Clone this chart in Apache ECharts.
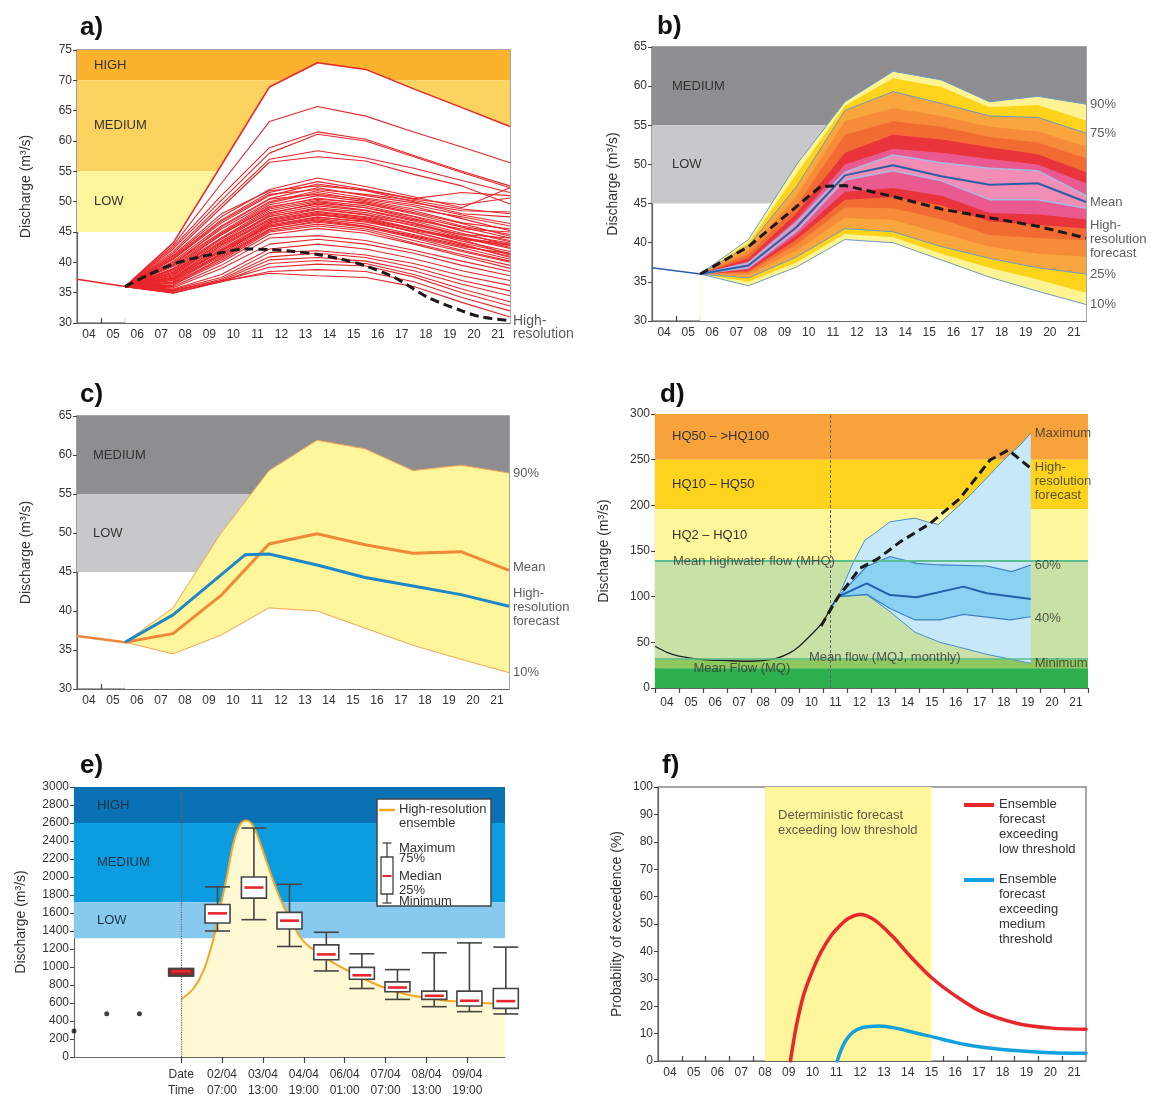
<!DOCTYPE html>
<html><head><meta charset="utf-8">
<script src="https://cdn.jsdelivr.net/npm/echarts@6/dist/echarts.min.js"></script>
<style>html,body{margin:0;padding:0;background:#fff}#c{width:1151px;height:1099px}</style>
</head><body><div id="c"></div>
<script>
// ---------------- DATA ----------------
const dayLabels = ['04','05','06','07','08','09','10','11','12','13','14','15','16','17','18','19','20','21'];

// Panel a
const aHistX = [0, 2];
const aHist = [37.2, 36.0];
const aMemberX = [2, 4, 6, 8, 10, 12, 14, 16, 18];
const aMembers = [
  [36, 43.2, 56.0, 68.9, 72.9, 71.8, 68.6, 65.5, 62.4],
  [36, 42.8, 53.0, 63.2, 65.7, 64.1, 61.5, 59.0, 56.4],
  [36, 42.5, 51.0, 58.9, 61.5, 60.3, 57.6, 55.0, 52.6],
  [36, 42.2, 50.2, 58.0, 61.1, 60.0, 57.4, 54.8, 52.3],
  [36, 41.8, 49.5, 57.0, 58.4, 57.2, 55.5, 53.5, 51.5],
  [36, 41.5, 49.0, 56.5, 57.4, 56.7, 54.5, 52.6, 49.6],
  [36, 41.0, 47.5, 52.0, 53.9, 52.5, 50.8, 49.0, 52.3],
  [36, 40.8, 47.0, 51.5, 53.3, 52.0, 50.5, 51.5, 51.0],
  [36, 40.5, 46.5, 51.0, 52.9, 51.8, 50.0, 48.0, 47.5],
  [36, 40.2, 46.0, 50.5, 52.3, 51.0, 49.8, 48.5, 48.3],
  [36, 40.0, 45.5, 50.0, 51.8, 50.6, 49.5, 47.8, 46.4],
  [36, 39.8, 45.0, 49.8, 51.5, 50.2, 48.8, 47.5, 46.0],
  [36, 39.5, 44.8, 49.5, 51.0, 50.0, 48.5, 46.5, 45.5],
  [36, 39.3, 44.5, 49.0, 50.6, 49.6, 48.0, 46.0, 44.6],
  [36, 39.0, 44.0, 48.8, 50.2, 49.3, 47.6, 45.8, 44.0],
  [36, 38.8, 43.8, 48.5, 50.0, 49.0, 47.5, 45.2, 43.6],
  [36, 38.6, 43.5, 48.2, 49.6, 48.6, 47.0, 45.5, 45.0],
  [36, 38.4, 43.2, 47.8, 49.3, 48.5, 46.8, 44.8, 42.8],
  [36, 38.2, 43.0, 47.5, 49.0, 48.2, 46.5, 44.5, 43.2],
  [36, 38.0, 42.8, 47.2, 48.7, 47.8, 46.0, 44.0, 42.3],
  [36, 37.8, 42.5, 47.0, 48.4, 47.5, 46.2, 44.6, 44.0],
  [36, 37.6, 42.2, 46.7, 48.0, 47.2, 45.5, 43.5, 41.8],
  [36, 37.5, 42.0, 46.5, 47.8, 47.0, 45.0, 43.2, 41.5],
  [36, 37.3, 41.8, 46.2, 47.5, 46.6, 45.2, 43.8, 42.8],
  [36, 37.1, 41.5, 46.0, 47.2, 46.3, 44.6, 42.8, 41.0],
  [36, 37.0, 41.2, 45.8, 47.0, 46.0, 44.2, 42.4, 40.5],
  [36, 36.8, 41.0, 45.5, 46.6, 45.8, 44.0, 42.0, 40.2],
  [36, 36.6, 40.6, 45.2, 46.3, 45.5, 43.6, 41.8, 40.0],
  [36, 36.5, 40.3, 45.0, 46.0, 45.2, 43.2, 41.3, 39.5],
  [36, 36.3, 40.0, 44.6, 45.6, 44.8, 43.0, 41.0, 39.0],
  [36, 41.2, 48.0, 51.8, 52.6, 51.9, 50.4, 49.5, 50.6],
  [36, 40.6, 46.8, 51.2, 52.0, 51.2, 50.2, 48.8, 48.0],
  [36, 39.6, 45.8, 50.4, 51.2, 50.4, 49.2, 47.2, 45.2],
  [36, 38.9, 44.6, 49.2, 50.4, 49.8, 48.2, 46.4, 44.3],
  [36, 38.3, 44.0, 48.0, 49.8, 49.0, 47.2, 45.2, 43.4],
  [36, 37.9, 43.4, 47.6, 48.8, 47.9, 46.4, 44.2, 42.5],
  [36, 37.4, 42.8, 46.9, 48.2, 47.4, 45.6, 43.8, 41.2],
  [36, 37.2, 42.0, 46.0, 47.4, 46.8, 45.0, 43.0, 40.8],
  [36, 36.0, 39.5, 44.0, 44.4, 43.6, 42.0, 40.2, 38.5],
  [36, 35.8, 39.0, 43.0, 43.8, 43.0, 41.5, 39.5, 37.8],
  [36, 35.6, 38.0, 42.2, 43.0, 42.2, 40.6, 38.6, 37.0],
  [36, 35.5, 37.5, 41.6, 41.9, 41.2, 39.8, 37.8, 36.2],
  [36, 35.3, 37.2, 40.9, 41.5, 40.8, 39.2, 37.0, 35.3],
  [36, 35.2, 37.0, 40.4, 40.8, 40.2, 38.6, 36.4, 34.5],
  [36, 35.0, 36.8, 39.8, 40.3, 39.8, 38.0, 35.6, 33.5],
  [36, 35.0, 36.9, 39.2, 39.7, 39.4, 37.6, 35.0, 32.8],
  [36, 34.9, 36.8, 38.5, 38.8, 38.5, 36.8, 34.2, 32.0],
  [36, 35.4, 36.9, 38.2, 37.8, 37.5, 36.0, 33.4, 31.0],
  [36, 36.2, 40.8, 45.4, 46.8, 45.9, 44.4, 42.6, 41.4],
  [36, 36.7, 41.4, 46.4, 47.9, 47.0, 45.4, 44.0, 43.0]
];
const aHighResX = [2, 3, 4, 5, 6, 7, 8, 9, 10, 11, 12, 13.2, 14.6, 16, 16.8, 18];
const aHighRes = [36, 38, 39.7, 40.8, 41.6, 42.2, 42.1, 41.8, 41.3, 40.5, 39.4, 37.5, 34.2, 32, 31, 30.4];

// Panels b / c (quantile fan)
const histX = [0, 2];
const hist = [36.8, 36.0];
const pctX = [2, 4, 6, 8, 10, 12, 14, 16, 18];
const p90 = [36, 40.4, 50.0, 58.0, 61.9, 60.8, 58.0, 58.7, 57.7];
const p85 = [36, 40.0, 48.8, 57.5, 61.0, 59.9, 57.3, 57.6, 55.6];
const p75 = [36, 39.6, 47.2, 56.9, 59.3, 57.8, 56.2, 56.0, 54.0];
const p70 = [36, 39.0, 46.0, 55.5, 57.2, 56.2, 54.8, 54.2, 52.3];
const p65 = [36, 38.5, 44.8, 53.8, 55.5, 54.8, 53.5, 52.8, 50.8];
const p60 = [36, 38.0, 43.8, 51.5, 53.8, 53.2, 52.2, 51.3, 49.0];
const p57 = [36, 37.6, 43.0, 50.0, 52.0, 51.5, 50.7, 50.0, 47.6];
const p55 = [36, 37.4, 42.6, 49.0, 51.2, 50.2, 49.5, 49.2, 46.0];
const pMean = [36, 37.1, 42.0, 48.6, 49.9, 48.5, 47.4, 47.6, 45.2];
const p45 = [36, 36.8, 41.5, 48.0, 49.2, 47.9, 45.5, 45.5, 44.4];
const p40 = [36, 36.6, 41.0, 46.5, 47.0, 46.0, 43.8, 43.6, 43.0];
const p35 = [36, 36.4, 40.4, 45.5, 45.8, 44.8, 42.7, 42.3, 41.8];
const p30 = [36, 36.2, 39.8, 44.5, 44.4, 43.0, 41.0, 40.6, 40.3];
const p27 = [36, 35.9, 39.0, 43.2, 42.9, 41.2, 39.5, 38.6, 38.2];
const p25 = [36, 35.5, 38.2, 41.8, 41.4, 39.5, 38.0, 36.8, 36.0];
const p15 = [36, 35.0, 37.5, 41.1, 40.7, 38.6, 36.8, 35.3, 33.6];
const p10 = [36, 34.5, 36.9, 40.4, 40.0, 37.8, 35.6, 33.8, 32.1];
const hiResX = [2, 4, 7, 8, 10, 12, 14, 16, 18];
const hiRes = [36, 39.5, 47.2, 47.3, 45.9, 44.3, 43.2, 42.1, 40.6];

// Panel d
const dObsX = [0, 0.5, 1, 2, 3, 4, 5, 5.6, 6, 6.5, 7, 7.28];
const dObs = [45.7, 39, 34.8, 31.1, 30, 29.3, 32.2, 38.4, 45.7, 58.5, 73, 87];
const dMaxX = [7.62, 8.25, 8.73, 9.22, 9.77, 10.81, 11.30, 11.78, 13.10, 14.62, 15.18, 15.62];
const dMax = [100, 138, 162, 171, 182, 186, 182, 179, 211, 253, 266, 279];
const dP60X = [7.62, 8.80, 9.77, 10.88, 11.85, 13.79, 14.83, 15.62];
const dP60 = [100, 133, 144, 136.5, 134.7, 133.6, 127.4, 134.7];
const dMeanX = [7.28, 7.62, 8.80, 9.77, 10.88, 12.82, 13.79, 15.62];
const dMean = [87, 100, 114.6, 101.8, 99.3, 111, 103.7, 97.4];
const dP40X = [7.62, 8.80, 9.77, 10.81, 11.85, 12.82, 14.76, 15.62];
const dP40 = [100, 102.5, 87, 74.5, 74.5, 80.7, 74.5, 78];
const dMinX = [7.62, 8.80, 9.77, 10.81, 11.85, 12.82, 13.79, 15.62];
const dMin = [100, 102, 83.6, 61, 50, 43.5, 36.9, 27];
const dHiResX = [6.9, 7.62, 8.52, 9.29, 10.19, 11.43, 12.68, 13.93, 14.69, 15.62];
const dHiRes = [68, 100, 131, 142, 160, 180, 207.7, 249.6, 260.6, 240.6];
const dForecastStart = 7.28;

// Panel e
const eDates = ['Date', '02/04', '03/04', '04/04', '06/04', '07/04', '08/04', '09/04'];
const eTimes = ['Time', '07:00', '13:00', '19:00', '01:00', '07:00', '13:00', '19:00'];
const eDateBox = [[0, 901, 901, 952, 982, 982]];
const eBoxes = [
  [0.89, 1400, 1489, 1596, 1695, 1890],
  [1.78, 1526, 1765, 1883, 2000, 2544],
  [2.65, 1228, 1423, 1515, 1607, 1919],
  [3.55, 956, 1081, 1140, 1246, 1386],
  [4.42, 761, 864, 908, 996, 1147],
  [5.29, 640, 725, 772, 835, 971],
  [6.19, 559, 640, 680, 732, 1158],
  [7.05, 504, 566, 625, 732, 1268],
  [7.94, 478, 540, 621, 761, 1221]
];
const eHiResX = [0, 0.30, 0.55, 0.79, 0.95, 1.12, 1.28, 1.44, 1.59, 1.77, 1.93, 2.10, 2.30, 2.50, 2.75, 2.99, 3.32, 3.72, 4.13, 4.54, 5.03, 5.52, 6.01, 6.58, 7.23, 7.92];
const eHiRes = [640, 761, 963, 1312, 1643, 2011, 2379, 2581, 2628, 2562, 2379, 2158, 1900, 1680, 1459, 1287, 1166, 1048, 945, 853, 761, 695, 658, 621, 603, 585];
const eDots = [[-2.62, 290], [-1.82, 480], [-1.02, 480]];

// Panel f
const fRedX = [5.57, 5.8, 6.12, 6.5, 6.87, 7.3, 7.61, 8.0, 8.51, 9.1, 9.85, 10.6, 11.52, 12.54, 13.58, 15.07, 16.57, 18];
const fRed = [0, 12, 24, 33, 40, 46, 49, 52, 53.5, 51.5, 45.6, 38.3, 30.3, 23.6, 18.1, 13.8, 12, 11.6];
const fBlueX = [7.54, 7.7, 7.9, 8.2, 8.6, 9.3, 10, 10.8, 11.52, 12.5, 13.5, 15, 16.5, 18];
const fBlue = [0, 4, 7.5, 10.5, 12.2, 12.8, 12, 10.3, 8.9, 6.8, 5.2, 3.8, 3, 2.8];
const fDetStart = 4.5, fDetEnd = 11.5;

// ---------------- HELPERS ----------------
const FONT = '"Liberation Sans", Arial, sans-serif';
const TXT = '#333';
const pts = (xs, ys) => xs.map((x, i) => [x, ys[i]]);
const dayTickVals = dayLabels.slice(1).map((_, i) => i + 1);
const dayLabelVals = dayLabels.map((_, i) => i + 0.5);

function xDay(gi, inside, ticks) {
  return {
    type: 'value', gridIndex: gi, min: 0, max: 18,
    axisLine: {show: true, onZero: false, lineStyle: {color: '#666', width: 1.2}},
    axisTick: {show: true, inside: inside, length: 5, customValues: ticks || dayTickVals, lineStyle: {color: '#444', width: 1.2}},
    axisLabel: {show: true, customValues: dayLabelVals, formatter: v => dayLabels[Math.floor(v)], color: TXT, fontSize: 12, fontFamily: FONT, margin: inside ? 6 : 9},
    splitLine: {show: false}
  };
}
function yAx(gi, min, max, interval, name, gap) {
  return {
    type: 'value', gridIndex: gi, min, max, interval, name, nameLocation: 'middle', nameGap: gap,
    nameTextStyle: {color: TXT, fontSize: 14, fontFamily: FONT},
    axisLine: {show: true, onZero: false, lineStyle: {color: '#666', width: 1.2}},
    axisTick: {show: true, length: 4, lineStyle: {color: '#444'}},
    axisLabel: {color: TXT, fontSize: 12, fontFamily: FONT, margin: 5, formatter: v => String(v)},
    splitLine: {show: false}
  };
}
function ln(gi, xs, ys, style, extra) {
  return Object.assign({
    type: 'line', xAxisIndex: gi, yAxisIndex: gi, data: pts(xs, ys), symbol: 'none', showSymbol: false,
    silent: true, lineStyle: style, z: 3
  }, extra || {});
}
function fill(gi, xs, ys, color, z) {
  return ln(gi, xs, ys, {width: 0, opacity: 0}, {areaStyle: {color, opacity: 1, origin: 'start'}, z: z || 2});
}
function bands(gi, list, labelOpts, extra) {
  return Object.assign({
    type: 'line', xAxisIndex: gi, yAxisIndex: gi, data: [], z: 1, silent: true,
    markArea: {
      silent: true,
      label: Object.assign({show: true, position: 'insideLeft', color: TXT, fontSize: 13, fontFamily: FONT}, labelOpts || {}),
      data: list.map(b => [{yAxis: b[0], name: b[2] || '', itemStyle: {color: b[3], opacity: 1}}, {yAxis: b[1]}])
    }
  }, extra || {});
}
function texts(gi, items, extra) {
  return Object.assign({
    type: 'scatter', xAxisIndex: gi, yAxisIndex: gi, symbolSize: 0, silent: true, z: 20, clip: false,
    data: items.map(t => ({value: [t[0], t[1]], label: {formatter: t[2], offset: t[3] || [0, 0]}})),
    label: {show: true, position: 'right', distance: 4, color: TXT, fontSize: 13, fontFamily: FONT, lineHeight: 14, align: 'left', verticalAlign: 'middle'}
  }, extra || {});
}
function polygon(gi, ux, uy, lx, ly, color, z) {
  return {
    type: 'custom', xAxisIndex: gi, yAxisIndex: gi, z: z, silent: true, data: [[ux[0], uy[0]]],
    renderItem: (params, api) => {
      const p = ux.map((x, i) => api.coord([x, uy[i]]));
      for (let i = lx.length - 1; i >= 0; i--) p.push(api.coord([lx[i], ly[i]]));
      return {type: 'polygon', shape: {points: p}, style: {fill: color}};
    }
  };
}
function boxSeries(gi, data, boxFill, z) {
  return {
    type: 'custom', xAxisIndex: gi, yAxisIndex: gi, z: z, silent: true, clip: false, data: data,
    encode: {x: 0, y: [1, 2, 3, 4, 5]},
    renderItem: (params, api) => {
      const x = api.value(0);
      const c = k => api.coord([x, api.value(k)]);
      const mn = c(1), q1 = c(2), md = c(3), q3 = c(4), mx = c(5);
      const cx = md[0], hw = 12.5;
      const st = {stroke: '#444', lineWidth: 1.6};
      return {type: 'group', children: [
        {type: 'line', shape: {x1: cx, y1: mx[1], x2: cx, y2: q3[1]}, style: st},
        {type: 'line', shape: {x1: cx, y1: q1[1], x2: cx, y2: mn[1]}, style: st},
        {type: 'line', shape: {x1: cx - hw, y1: mx[1], x2: cx + hw, y2: mx[1]}, style: st},
        {type: 'line', shape: {x1: cx - hw, y1: mn[1], x2: cx + hw, y2: mn[1]}, style: st},
        {type: 'rect', shape: {x: cx - hw, y: q3[1], width: 2 * hw, height: q1[1] - q3[1]}, style: {fill: boxFill, stroke: '#444', lineWidth: 1.6}},
        {type: 'line', shape: {x1: cx - hw + 3, y1: md[1], x2: cx + hw - 3, y2: md[1]}, style: {stroke: '#e8262b', lineWidth: 2.6}}
      ]};
    }
  };
}

// ---------------- OPTION ----------------
const RED = '#e8262b';
const series = [];

// ---- a ----
series.push(bands(0, [[70, 75, 'HIGH', '#fbb22d'], [55, 70, 'MEDIUM', '#fdd35f'], [45, 55, 'LOW', '#fff59c']], {distance: 17}));
aMembers.forEach((m, i) => {
  const s = ln(0, aMemberX, m, {color: RED, width: i === 0 ? 1.5 : 1.1});
  if (i === 0) { s.areaStyle = {color: '#ffffff', opacity: 1, origin: 'start'}; s.z = 2; }
  series.push(s);
});
series.push(ln(0, aHistX, aHist, {color: RED, width: 1.5}));
series.push(ln(0, aHighResX, aHighRes, {color: '#1a1a1a', width: 3, type: [9, 5]}, {smooth: 0.3, z: 5}));
series.push(texts(0, [[18, 30.4, 'High-\nresolution', [0, 7]]], {label: {show: true, position: 'right', distance: 3, color: TXT, fontSize: 14, fontFamily: FONT, lineHeight: 13, verticalAlign: 'middle'}}));

// ---- b ----
series.push(bands(1, [[55, 65, 'MEDIUM', '#8e8e90'], [45, 55, 'LOW', '#c8c8ca']], {distance: 20}));
const bLayers = [
  [p90, '#fff493'], [p85, '#fdd31c'], [p75, '#f9a63e'], [p70, '#f68b3a'], [p65, '#f26b32'], [p60, '#e8343a'],
  [p57, '#ea5a91'], [p55, '#f28db5'], [p45, '#ea5a91'], [p40, '#e8343a'], [p35, '#f26b32'], [p30, '#f68b3a'],
  [p27, '#f9a63e'], [p25, '#fdd31c'], [p15, '#fff493'], [p10, '#ffffff']
];
bLayers.forEach(l => series.push(fill(1, pctX, l[0], l[1], 2)));
[p90, p75, p25, p10].forEach(p => series.push(ln(1, pctX, p, {color: '#6a9ac6', width: 1})));
[p55, p45].forEach(p => series.push(ln(1, pctX, p, {color: '#a9b9e2', width: 1.5})));
series.push(ln(1, pctX, pMean, {color: '#2b5ea8', width: 2}));
series.push(ln(1, histX, hist, {color: '#2b5ea8', width: 1.5}));
series.push(ln(1, hiResX, hiRes, {color: '#1a1a1a', width: 3, type: [9, 5]}, {z: 5}));
series.push(texts(1, [
  [18, 57.7, '90%'], [18, 54.0, '75%'], [18, 45.2, 'Mean'], [18, 40.6, 'High-\nresolution\nforecast', [0, 1]],
  [18, 36.0, '25%'], [18, 32.1, '10%']
]));

// ---- c ----
series.push(bands(2, [[55, 65, 'MEDIUM', '#8e8e90'], [45, 55, 'LOW', '#c8c8ca']], {distance: 16}));
series.push(fill(2, pctX, p90, '#fff59a', 2));
series.push(fill(2, pctX, p10, '#ffffff', 2));
series.push(ln(2, pctX, p90, {color: '#f5a35a', width: 1}));
series.push(ln(2, pctX, p10, {color: '#f5a35a', width: 1}));
series.push(ln(2, pctX, pMean, {color: '#f0883a', width: 3}));
series.push(ln(2, histX, hist, {color: '#f0883a', width: 2.5}));
series.push(ln(2, hiResX, hiRes, {color: '#1d88c9', width: 3}, {z: 5}));
series.push(texts(2, [
  [18, 57.7, '90%'], [18, 45.2, 'Mean', [0, -3]], [18, 40.6, 'High-\nresolution\nforecast', [0, 1]], [18, 32.1, '10%']
]));

// ---- d ----
series.push(bands(3, [
  [250, 300, 'HQ50 – >HQ100', '#f8a23c'], [196, 250, 'HQ10 – HQ50', '#fdd31e'], [139, 196, 'HQ2 – HQ10', '#fff59b'],
  [32.5, 139, '', '#c8e1a6'], [21.5, 32.5, '', '#8fc85f'], [0, 21.5, '', '#2daf4e']
], {distance: 17}, {
  markLine: {silent: true, symbol: 'none', label: {show: false},
    data: [
      {yAxis: 139, lineStyle: {color: '#5cbf92', width: 2, type: 'solid'}},
      {yAxis: 32.5, lineStyle: {color: '#5cbf92', width: 1.5, type: 'solid'}},
      {xAxis: dForecastStart, lineStyle: {color: '#666', width: 1, type: [3, 2]}}
    ]}
}));
series.push(polygon(3, dMaxX, dMax, dMinX, dMin, '#c6e8f9', 2));
series.push(polygon(3, dP60X, dP60, dP40X, dP40, '#89d2f2', 2));
series.push(ln(3, dMaxX, dMax, {color: '#4a8fd0', width: 1}));
series.push(ln(3, dMinX, dMin, {color: '#4a8fd0', width: 1}));
series.push(ln(3, dP60X, dP60, {color: '#3f80c4', width: 1.2}));
series.push(ln(3, dP40X, dP40, {color: '#3f80c4', width: 1.2}));
series.push(ln(3, dMeanX, dMean, {color: '#2460a7', width: 2}));
series.push(ln(3, dObsX, dObs, {color: '#222', width: 1.3}, {smooth: 0.3}));
series.push(ln(3, dHiResX, dHiRes, {color: '#1a1a1a', width: 3, type: [9, 5]}, {z: 5}));
series.push(texts(3, [
  [0.75, 139, 'Mean highwater flow (MHQ)', [-4, 0]], [6.4, 34, 'Mean flow (MQJ, monthly)', [-4, 0]], [1.6, 21, 'Mean Flow (MQ)', [-4, 0]],
  [15.62, 279, 'Maximum'], [15.62, 240.6, 'High-\nresolution\nforecast', [0, 13]], [15.62, 134.7, '60%'],
  [15.62, 78, '40%', [0, 2]], [15.62, 27, 'Minimum']
]));

// ---- e ----
series.push(bands(4, [[2600, 3000, 'HIGH', '#0a71b5'], [1720, 2600, 'MEDIUM', '#0b9de0'], [1320, 1720, 'LOW', '#88caef']], {distance: 23, color: '#1d3246'}));
series.push(ln(4, eHiResX, eHiRes, {color: '#f5a623', width: 2}, {smooth: 0.35, areaStyle: {color: '#fef8d3', opacity: 1, origin: 'start'}, z: 2}));
series.push({type: 'line', xAxisIndex: 4, yAxisIndex: 4, data: [], z: 6, silent: true,
  markLine: {silent: true, symbol: 'none', label: {show: false}, data: [{xAxis: 0, lineStyle: {color: '#666', width: 1.2, type: 'dotted'}}]}});
series.push(boxSeries(4, eDateBox, '#8f2a2a', 7));
series.push(boxSeries(4, eBoxes, '#ffffff', 7));
series.push({type: 'scatter', xAxisIndex: 4, yAxisIndex: 4, data: eDots, symbolSize: 5, itemStyle: {color: '#111'}, silent: true, z: 8, clip: false});

// ---- f ----
series.push({type: 'line', xAxisIndex: 5, yAxisIndex: 5, data: [], z: 1, silent: true,
  markArea: {silent: true, data: [[{xAxis: fDetStart, itemStyle: {color: '#fff59a', opacity: 1}}, {xAxis: fDetEnd}]]}});
series.push(ln(5, fRedX, fRed, {color: RED, width: 3.5, cap: 'round', join: 'round'}, {smooth: 0.3}));
series.push(ln(5, fBlueX, fBlue, {color: '#13a0e0', width: 3.5, cap: 'round', join: 'round'}, {smooth: 0.3}));
series.push(texts(5, [[fDetStart + 0.55, 87, 'Deterministic forecast\nexceeding low threshold']], {label: {show: true, position: 'right', distance: 0, color: TXT, fontSize: 13, fontFamily: FONT, lineHeight: 15, verticalAlign: 'middle'}}));

const titleStyle = {fontSize: 26, fontWeight: 'bold', color: '#111', fontFamily: FONT};
const option = {
  animation: false,
  backgroundColor: '#fff',
  title: [
    {text: 'a)', left: 80, top: 15, padding: 0, textStyle: titleStyle},
    {text: 'b)', left: 657, top: 14, padding: 0, textStyle: titleStyle},
    {text: 'c)', left: 80, top: 382, padding: 0, textStyle: titleStyle},
    {text: 'd)', left: 660, top: 382, padding: 0, textStyle: titleStyle},
    {text: 'e)', left: 80, top: 753, padding: 0, textStyle: titleStyle},
    {text: 'f)', left: 662, top: 753, padding: 0, textStyle: titleStyle}
  ],
  grid: [
    {left: 77, top: 50, width: 433, height: 273, show: true, borderColor: '#888', borderWidth: 1.5},
    {left: 652, top: 47, width: 434, height: 274, show: true, borderColor: '#888', borderWidth: 1.5},
    {left: 77, top: 416, width: 432, height: 273, show: true, borderColor: '#888', borderWidth: 1.5},
    {left: 655, top: 414, width: 433, height: 274},
    {left: 74, top: 787, width: 431, height: 273},
    {left: 658, top: 787, width: 428, height: 274, show: true, borderColor: '#888', borderWidth: 1.5}
  ],
  xAxis: [
    xDay(0, true), xDay(1, true), xDay(2, true),
    xDay(3, false, dayLabels.map((_, i) => i).concat([18])),
    {
      type: 'value', gridIndex: 4, min: -2.62, max: 7.92,
      axisLine: {show: true, onZero: false, lineStyle: {color: '#666', width: 1.2}},
      axisTick: {show: true, inside: false, length: 6, customValues: eDates.map((_, i) => i), lineStyle: {color: '#444', width: 1.2}},
      axisLabel: {show: true, customValues: eDates.map((_, i) => i), formatter: v => eDates[Math.round(v)] + '\n' + eTimes[Math.round(v)], color: TXT, fontSize: 12, fontFamily: FONT, lineHeight: 16, margin: 10},
      splitLine: {show: false}
    },
    xDay(5, true)
  ],
  yAxis: [
    yAx(0, 30, 75, 5, 'Discharge (m³/s)', 44),
    yAx(1, 30, 65, 5, 'Discharge (m³/s)', 32),
    yAx(2, 30, 65, 5, 'Discharge (m³/s)', 44),
    yAx(3, 0, 300, 50, 'Discharge (m³/s)', 44),
    yAx(4, 0, 3000, 200, 'Discharge (m³/s)', 46),
    yAx(5, 0, 100, 10, 'Probability of exceedence (%)', 34)
  ],
  series: series,
  graphic: [
    // legend of panel e
    {type: 'rect', shape: {x: 377, y: 799, width: 114, height: 107}, style: {fill: '#fff', stroke: '#444', lineWidth: 1.5}, z: 50},
    {type: 'line', shape: {x1: 379, y1: 810, x2: 395, y2: 810}, style: {stroke: '#f5a623', lineWidth: 2.5}, z: 51},
    {type: 'text', x: 399, y: 802, style: {text: 'High-resolution\nensemble', font: '13px ' + FONT, fill: TXT, lineHeight: 14}, z: 51},
    {type: 'line', shape: {x1: 387, y1: 843, x2: 387, y2: 857}, style: {stroke: '#444', lineWidth: 1.3}, z: 51},
    {type: 'line', shape: {x1: 382.5, y1: 843, x2: 391.5, y2: 843}, style: {stroke: '#444', lineWidth: 1.3}, z: 51},
    {type: 'rect', shape: {x: 381, y: 857, width: 12, height: 37}, style: {fill: '#fff', stroke: '#444', lineWidth: 1.3}, z: 51},
    {type: 'line', shape: {x1: 382.5, y1: 876, x2: 391.5, y2: 876}, style: {stroke: '#e8262b', lineWidth: 2}, z: 52},
    {type: 'line', shape: {x1: 387, y1: 894, x2: 387, y2: 903}, style: {stroke: '#444', lineWidth: 1.3}, z: 51},
    {type: 'line', shape: {x1: 382.5, y1: 903, x2: 391.5, y2: 903}, style: {stroke: '#444', lineWidth: 1.3}, z: 51},
    {type: 'text', x: 399, y: 848, style: {text: 'Maximum', font: '13px ' + FONT, fill: TXT, verticalAlign: 'middle'}, z: 51},
    {type: 'text', x: 399, y: 858, style: {text: '75%', font: '13px ' + FONT, fill: TXT, verticalAlign: 'middle'}, z: 51},
    {type: 'text', x: 399, y: 876, style: {text: 'Median', font: '13px ' + FONT, fill: TXT, verticalAlign: 'middle'}, z: 51},
    {type: 'text', x: 399, y: 890, style: {text: '25%', font: '13px ' + FONT, fill: TXT, verticalAlign: 'middle'}, z: 51},
    {type: 'text', x: 399, y: 901, style: {text: 'Minimum', font: '13px ' + FONT, fill: TXT, verticalAlign: 'middle'}, z: 51},
    // legend of panel f
    {type: 'line', shape: {x1: 964, y1: 805, x2: 994, y2: 805}, style: {stroke: '#e8262b', lineWidth: 4}, z: 51},
    {type: 'text', x: 999, y: 797, style: {text: 'Ensemble\nforecast\nexceeding\nlow threshold', font: '13px ' + FONT, fill: TXT, lineHeight: 15}, z: 51},
    {type: 'line', shape: {x1: 964, y1: 880, x2: 994, y2: 880}, style: {stroke: '#13a0e0', lineWidth: 4}, z: 51},
    {type: 'text', x: 999, y: 872, style: {text: 'Ensemble\nforecast\nexceeding\nmedium\nthreshold', font: '13px ' + FONT, fill: TXT, lineHeight: 15}, z: 51}
  ]
};
const chart = echarts.init(document.getElementById('c'), null, {width: 1151, height: 1099});
chart.setOption(option);
</script>
</body></html>
